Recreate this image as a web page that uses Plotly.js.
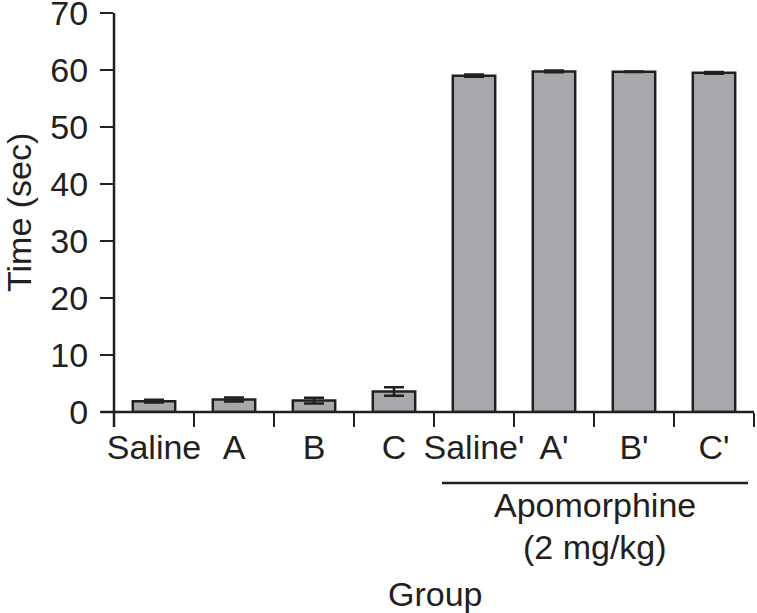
<!DOCTYPE html>
<html>
<head>
<meta charset="utf-8">
<script src="https://cdn.plot.ly/plotly-3.0.1.min.js"></script>
<style>html,body{margin:0;padding:0;background:#fff;}</style>
</head>
<body>
<div id="chart" style="width:757px;height:613px;"></div>
<script>
const categories = ["Saline", "A", "B", "C", "Saline'", "A'", "B'", "C'"];
const timeValues = [1.9, 2.2, 2.0, 3.6, 59.0, 59.75, 59.7, 59.5];
const timeErrors = [0.25, 0.35, 0.5, 0.75, 0.2, 0.15, 0.05, 0.15];
const yTicks = [0, 10, 20, 30, 40, 50, 60, 70];

const ink = '#231f20';
const fontFam = '"Liberation Sans", Arial, Helvetica, sans-serif';
const fs = 34;

const trace = {
  type: 'bar',
  x: categories,
  y: timeValues,
  width: 0.53,
  marker: { color: '#a7a8ab', line: { color: ink, width: 2.5 } },
  error_y: { type: 'data', array: timeErrors, visible: true, color: ink, thickness: 2.5, width: 10 },
  hoverinfo: 'x+y'
};

const layout = {
  width: 757, height: 613,
  margin: { l: 114, r: 3, t: 13, b: 201 },
  paper_bgcolor: '#ffffff', plot_bgcolor: '#ffffff',
  showlegend: false,
  font: { family: fontFam, color: ink, size: fs },
  xaxis: {
    type: 'category',
    range: [-0.5, 7.5],
    tickson: 'boundaries',
    tickangle: 0,
    ticks: 'outside', ticklen: 14, tickwidth: 2.5, tickcolor: ink,
    ticklabelstandoff: 12,
    showline: false, showgrid: false, zeroline: false,
    tickfont: { family: fontFam, size: fs, color: ink },
    fixedrange: true
  },
  yaxis: {
    range: [0, 70],
    tickvals: yTicks,
    ticktext: yTicks.map(String),
    ticks: 'outside', ticklen: 13, tickwidth: 2.5, tickcolor: ink,
    ticklabelstandoff: 5,
    ticklabeloverflow: 'allow',
    showline: false, showgrid: false, zeroline: false,
    tickfont: { family: fontFam, size: fs, color: ink },
    fixedrange: true
  },
  shapes: [
    { type: 'line', xref: 'paper', yref: 'paper', x0: (101 - 114) / 640, x1: 1, y0: 0, y1: 0, line: { color: ink, width: 2.5 } },
    { type: 'line', xref: 'paper', yref: 'paper', x0: 0, x1: 0, y0: (412 - 427) / 399, y1: 1, line: { color: ink, width: 2.5 } },
    { type: 'line', xref: 'paper', yref: 'paper', x0: (442 - 114) / 640, x1: (748 - 114) / 640, y0: (412 - 483) / 399, y1: (412 - 483) / 399, line: { color: ink, width: 2.5 } }
  ],
  annotations: [
    { text: 'Apomorphine', xref: 'paper', yref: 'paper', x: (595 - 114) / 640, y: (412 - 505) / 399, xanchor: 'center', yanchor: 'middle', showarrow: false, font: { family: fontFam, size: fs, color: ink } },
    { text: '(2 mg/kg)', xref: 'paper', yref: 'paper', x: (595 - 114) / 640, y: (412 - 547) / 399, xanchor: 'center', yanchor: 'middle', showarrow: false, font: { family: fontFam, size: fs, color: ink } },
    { text: 'Group', xref: 'paper', yref: 'paper', x: (435 - 114) / 640, y: (412 - 594) / 399, xanchor: 'center', yanchor: 'middle', showarrow: false, font: { family: fontFam, size: fs, color: ink } },
    { text: 'Time (sec)', textangle: -90, xref: 'paper', yref: 'paper', x: (19 - 114) / 640, y: (412 - 213) / 399, xanchor: 'center', yanchor: 'middle', showarrow: false, font: { family: fontFam, size: fs, color: ink } }
  ]
};

Plotly.newPlot('chart', [trace], layout, { displayModeBar: false, staticPlot: true });
</script>
</body>
</html>
